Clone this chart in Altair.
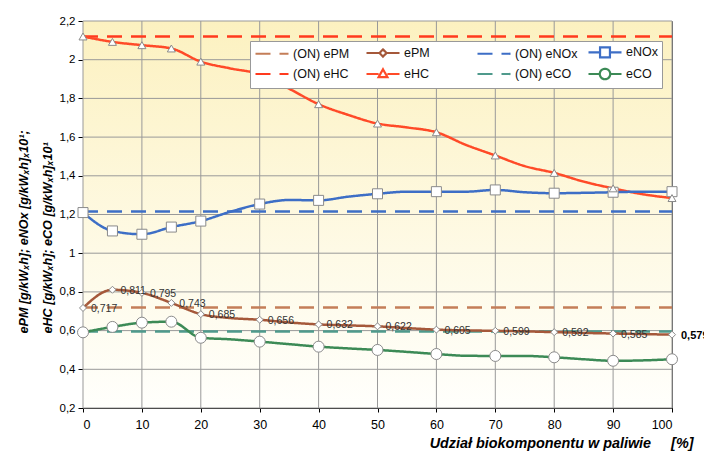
import altair as alt
import pandas as pd

# Biocomponent share in the fuel [%]
share = [0, 5, 10, 15, 20, 25, 30, 35, 40, 45, 50, 55, 60, 65, 70, 75, 80, 85, 90, 95, 100]
marker_share = [0, 5, 10, 15, 20, 30, 40, 50, 60, 70, 80, 90, 100]

# Measured emission indices
e_pm = [0.717, 0.811, 0.795, 0.743, 0.685, 0.665, 0.656, 0.642, 0.632, 0.627, 0.622,
        0.613, 0.605, 0.601, 0.599, 0.596, 0.592, 0.588, 0.585, 0.582, 0.579]
e_hc = [2.12, 2.092, 2.075, 2.058, 1.99, 1.955, 1.925, 1.85, 1.77, 1.715, 1.67,
        1.65, 1.625, 1.56, 1.505, 1.45, 1.415, 1.37, 1.335, 1.305, 1.285]
e_nox = [1.21, 1.115, 1.098, 1.135, 1.166, 1.214, 1.254, 1.275, 1.273, 1.292, 1.307,
         1.318, 1.318, 1.318, 1.327, 1.315, 1.31, 1.312, 1.315, 1.318, 1.318]
e_co = [0.591, 0.619, 0.641, 0.646, 0.563, 0.555, 0.543, 0.53, 0.517, 0.508, 0.50,
        0.49, 0.479, 0.47, 0.469, 0.469, 0.462, 0.452, 0.444, 0.446, 0.452]

# Reference levels for diesel fuel (ON)
on_pm = 0.72
on_hc = 2.12
on_nox = 1.215
on_co = 0.595

x_ticks = [0, 10, 20, 30, 40, 50, 60, 70, 80, 90, 100]
y_ticks = [0.2, 0.4, 0.6, 0.8, 1.0, 1.2, 1.4, 1.6, 1.8, 2.0, 2.2]

series_order = ["(ON) ePM", "ePM", "(ON) eNOx", "eNOx", "(ON) eHC", "eHC", "(ON) eCO", "eCO"]
series_colors = ["#C47E58", "#A5583A", "#3D6EC6", "#3D6EC6", "#FF3A1E", "#FF4A28", "#4F9A8C", "#3C8A56"]
series_dash = [[15, 9], [1, 0], [15, 9], [1, 0], [15, 9], [1, 0], [15, 9], [1, 0]]

# Legend glyphs: a line segment, broken by the series marker for measured series
legend_glyphs = [
    "M-1,0H5",
    "M-1,0H1.35M2.65,0H5M2,-0.65L2.65,0L2,0.65L1.35,0Z",
    "M-1,0H5",
    "M-1,0H1.1M2.9,0H5M1.1,-0.9H2.9V0.9H1.1Z",
    "M-1,0H5",
    "M-1,0H1.2M2.8,0H5M2,-0.85L2.8,0.55L1.2,0.55Z",
    "M-1,0H5",
    "M-1,0H1.05M2.95,0H5M2.95,0A0.95,0.95 0 1,1 1.05,0A0.95,0.95 0 1,1 2.95,0Z",
]

# Markers on the measured curves
marker_style = {
    "ePM": ("diamond", 49),
    "eNOx": ("square", 100),
    "eHC": ("triangle-up", 64),
    "eCO": ("circle", 121),
}

FONT = "Liberation Sans"
W, H = 589, 387
NBSP_PAD = "\u00a0" * 9

measured = {"ePM": e_pm, "eHC": e_hc, "eNOx": e_nox, "eCO": e_co}
reference = {"(ON) ePM": on_pm, "(ON) eHC": on_hc, "(ON) eNOx": on_nox, "(ON) eCO": on_co}

line_rows = []
for name, level in reference.items():
    for x in (share[0], share[-1]):
        line_rows.append({"share": x, "value": level, "series": name})
for name, vals in measured.items():
    for x, v in zip(share, vals):
        line_rows.append({"share": x, "value": v, "series": name})
lines_df = pd.DataFrame(line_rows)

marker_rows = []
for name, vals in measured.items():
    for x, v in zip(share, vals):
        if x in marker_share:
            marker_rows.append({"share": x, "value": v, "series": name})
markers_df = pd.DataFrame(marker_rows)

label_rows = []
for x, v in zip(share, e_pm):
    if x in marker_share:
        label_rows.append({"share": x, "value": v, "label": f"{v:.3f}".replace(".", ",")})
labels_df = pd.DataFrame(label_rows)

x_scale = alt.Scale(domain=[x_ticks[0], x_ticks[-1]], nice=False, zero=False)
y_scale = alt.Scale(domain=[y_ticks[0], y_ticks[-1]], nice=False, zero=False)

x_axis = alt.Axis(
    values=x_ticks, tickCount=len(x_ticks), grid=False, tickSize=4, tickColor="#000", domainColor="#000",
    labelFont=FONT, labelFontSize=12.5, labelColor="#000", labelPadding=6, labelOverlap=False,
    title="Udział biokomponentu w paliwie\u00a0\u00a0\u00a0\u00a0\u00a0[%]",
    titleFont=FONT, titleFontSize=14.4, titleFontWeight="bold", titleFontStyle="italic",
    titleColor="#000", titleAlign="right", titleX=610, titleY=39, titleBaseline="alphabetic",
)
y_axis = alt.Axis(
    values=y_ticks, tickCount=len(y_ticks), grid=False, tickSize=5, tickColor="#000", domainColor="#000",
    labelFont=FONT, labelFontSize=11.5, labelColor="#000", labelPadding=3, labelOverlap=False,
    labelExpr="replace(format(datum.value, '.1~f'), '.', ',')",
    title=["ePM [g/kWₓh]; eNOx [g/kWₓh]ₓ10¹;", "eHC [g/kWₓh]; eCO [g/kWₓh]ₓ10¹"],
    titleFont=FONT, titleFontSize=12.6, titleFontWeight="bold", titleFontStyle="italic",
    titleColor="#000", titleAngle=270, titleAlign="left", titleBaseline="middle",
    titleX=-60, titleY=312, titleLineHeight=24,
)

X = alt.X("share:Q", scale=x_scale, axis=x_axis)
Y = alt.Y("value:Q", scale=y_scale, axis=y_axis)

# Plot background: light yellow fading towards the bottom
background = alt.Chart(alt.Data(values=[{}])).mark_rect(
    fill=alt.Gradient(
        gradient="linear",
        stops=[alt.GradientStop(offset=0, color="#FCF1C0"),
               alt.GradientStop(offset=0.6, color="#FEFAE6"),
               alt.GradientStop(offset=1, color="#FFFFFC")],
        x1=0, x2=0, y1=0, y2=1,
    )
).encode(
    x=alt.datum(x_ticks[0], scale=x_scale),
    x2=alt.datum(x_ticks[-1]),
    y=alt.datum(y_ticks[-1], scale=y_scale),
    y2=alt.datum(y_ticks[0]),
)

grid_color = "#999999"
vgrid = alt.Chart(pd.DataFrame({"gx": x_ticks})).mark_rule(color=grid_color, strokeWidth=1).encode(
    x=alt.X("gx:Q", scale=x_scale, axis=x_axis)
)
hgrid = alt.Chart(pd.DataFrame({"gy": y_ticks})).mark_rule(color=grid_color, strokeWidth=1).encode(
    y=alt.Y("gy:Q", scale=y_scale, axis=y_axis)
)

# last legend column gets trailing no-break spaces so every column is equally wide
legend = alt.Legend(
    title=None, orient="none", legendX=167, legendY=20, columns=4, direction="horizontal",
    gridAlign="all", labelFont=FONT, labelFontSize=12.5, labelColor="#111", labelOffset=25,
    labelExpr=f"indexof(['eNOx', 'eCO'], datum.label) >= 0 ? datum.label + '{NBSP_PAD}' : datum.label",
    padding=4, rowPadding=2, columnPadding=6,
    symbolSize=121, symbolStrokeWidth=2.2, symbolFillColor="white",
    fillColor="white", strokeColor="#999",
)

color_enc = alt.Color("series:N", scale=alt.Scale(domain=series_order, range=series_colors), legend=legend)
dash_enc = alt.StrokeDash("series:N", scale=alt.Scale(domain=series_order, range=series_dash), legend=legend)

lines = alt.Chart(lines_df).mark_line(strokeWidth=2.5, interpolate="monotone").encode(
    x=X, y=Y, color=color_enc, strokeDash=dash_enc, order="share:Q",
)

# carries the legend glyph shapes; draws no points of its own
legend_glyph_layer = alt.Chart(lines_df).transform_filter("false").mark_point(
    filled=False, fill="white", opacity=1
).encode(
    x=X, y=Y, color=color_enc,
    shape=alt.Shape("series:N", scale=alt.Scale(domain=series_order, range=legend_glyphs), legend=legend),
)

marker_layers = []
for name, (shape, size) in marker_style.items():
    marker_layers.append(
        alt.Chart(markers_df).transform_filter(alt.datum.series == name).mark_point(
            shape=shape, size=size, filled=True, fill="white", stroke="#8A8A8A", strokeWidth=1, opacity=1
        ).encode(x=X, y=Y)
    )

labels = alt.Chart(labels_df).transform_filter(f"datum.share < {x_ticks[-1]}").mark_text(
    align="left", baseline="middle", dx=8, dy=1, font=FONT, fontSize=10.5, color="#333"
).encode(x=X, y=Y, text="label:N")

last_label = alt.Chart(labels_df).transform_filter(f"datum.share == {x_ticks[-1]}").mark_text(
    align="left", baseline="middle", dx=9, dy=1, font=FONT, fontSize=11, fontWeight="bold", color="#000"
).encode(x=X, y=Y, text="label:N")

chart = alt.layer(
    background, vgrid, hgrid, lines, legend_glyph_layer, *marker_layers, labels, last_label
).properties(
    width=W, height=H,
    padding={"left": 83, "top": 21, "right": 32, "bottom": 43},
    autosize=alt.AutoSizeParams(type="none"),
    background="white",
).configure_view(stroke="#555", strokeWidth=1).configure_axis(grid=False)

chart.save("out.html", embed_options={"renderer": "svg", "actions": False})
